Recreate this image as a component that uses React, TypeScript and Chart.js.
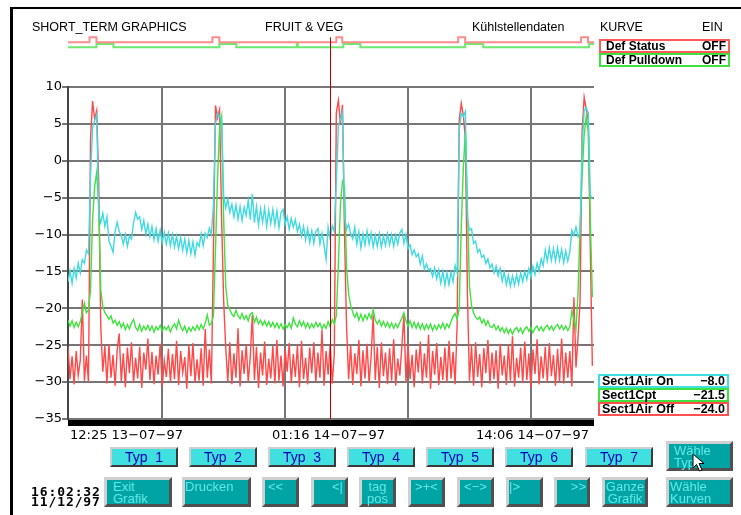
import React, { useEffect, useRef } from 'react';
import { Chart, registerables } from 'chart.js';

Chart.register(...registerables);

// ---------- data ----------
const STEP_H = 0.1; // hours between samples, starting at 12:25 13-07-97
const X_MAX_H = 25.68;
const GRID_H = [4.583, 10.583, 16.583, 22.583]; // 17:00, 23:00, 05:00, 11:00
const Y_TICKS = [10, 5, 0, -5, -10, -15, -20, -25, -30, -35];
const TIME_LABELS = ['12:25 13\u221207\u221297', '01:16 14\u221207\u221297', '14:06 14\u221207\u221297'];
const CURSOR_H = 12.8;

const AIR_ON = [
  -16.4, -14.9, -16.6, -14.6, -15.9, -13.9, -15.2, -13.4, -13.9, -12.1,
  -12.6, -2.0, 4.5, 5.5, 6.3, -7.2, -8.4, -7.1, -8.9, -7.6,
  -10.9, -11.6, -12.4, -9.6, -8.3, -9.6, -10.1, -11.3, -10.0, -11.6,
  -10.2, -10.6, -8.4, -7.0, -7.9, -7.6, -9.3, -8.1, -9.9, -8.6,
  -10.3, -8.9, -10.7, -9.2, -10.9, -9.4, -11.1, -9.7, -11.3, -9.8,
  -11.5, -10.0, -11.7, -10.2, -11.9, -10.4, -12.1, -10.6, -12.5, -10.8,
  -12.6, -11.0, -12.8, -11.1, -11.6, -9.9, -11.5, -9.8, -10.4, -9.1,
  -10.0, -6.0, 5.0, 6.5, 6.0, 5.5, -4.8, -6.4, -5.2, -7.0,
  -5.9, -7.6, -6.0, -7.9, -6.2, -8.1, -6.3, -7.4, -5.4, -8.0,
  -4.5, -8.4, -6.2, -8.7, -6.5, -8.3, -6.4, -8.9, -6.7, -8.5,
  -6.6, -8.7, -6.8, -9.1, -7.0, -6.6, -8.6, -7.6, -9.3, -7.8,
  -9.0, -8.0, -9.6, -8.6, -10.2, -8.9, -10.7, -9.2, -11.1, -9.5,
  -11.2, -9.6, -9.2, -11.3, -9.8, -11.4, -13.4, -9.0, -10.6, -8.8,
  -9.6, -3.0, 4.8, 5.6, 6.6, -7.5, -9.3, -8.6, -9.9, -10.6,
  -9.0, -11.3, -9.6, -11.8, -9.9, -11.4, -9.5, -11.3, -9.8, -11.7,
  -10.1, -11.6, -9.9, -11.7, -10.2, -11.5, -9.9, -11.4, -10.0, -11.6,
  -10.1, -11.3, -9.8, -9.3, -11.2, -10.0, -11.9, -11.4, -12.7, -12.1,
  -13.0, -12.6, -14.0, -12.9, -14.7, -14.0, -14.8, -14.6, -15.7, -14.5,
  -16.0, -14.8, -16.6, -15.0, -16.9, -15.2, -16.8, -15.1, -16.4, -14.2,
  -15.2, 4.2, 6.4, 6.0, 6.7, -7.8, -9.4, -9.2, -11.2, -10.9,
  -12.4, -12.0, -13.1, -12.8, -13.9, -13.3, -14.5, -14.0, -15.2, -14.3,
  -15.6, -14.6, -16.3, -15.1, -16.8, -15.5, -17.0, -15.6, -16.9, -15.5,
  -16.7, -15.2, -16.4, -15.0, -16.1, -14.6, -15.8, -14.3, -15.4, -13.9,
  -14.9, -13.3, -14.2, -12.1, -13.6, -11.8, -13.5, -11.9, -13.6, -11.8,
  -13.5, -12.0, -13.8, -12.2, -13.6, -12.3, -9.4, -10.1, -9.0, -10.3,
  -9.7, 2.0, 6.8, 7.2, 6.5, -4.6, -5.2,
];

const CPT = [
  -21.6, -22.4, -21.7, -22.6, -21.9, -22.5, -21.8, -20.5, -19.3, -20.6,
  -20.2, -17.5, -8.0, -3.5, -1.6, -6.0, -17.5, -19.8, -20.6, -21.0,
  -21.5, -21.0, -22.0, -21.6, -22.3, -21.8, -22.6, -22.0, -22.9, -22.2,
  -22.8, -22.0, -21.5, -22.6, -23.0, -22.2, -23.1, -22.4, -22.9, -22.3,
  -23.0, -22.4, -23.2, -22.5, -22.9, -22.3, -23.1, -22.5, -22.9, -22.4,
  -23.2, -22.5, -22.1, -22.8, -21.6, -22.5, -23.0, -22.4, -23.3, -22.6,
  -23.1, -22.5, -23.0, -22.3, -22.9, -22.2, -22.8, -22.0, -20.9, -22.3,
  -22.0, -21.0, -12.0, -2.5, 4.5, 6.0, -8.0, -17.0, -19.6, -20.2,
  -20.8, -21.1, -20.3, -21.0, -21.4, -20.7, -21.5, -21.0, -21.7, -20.8,
  -20.6, -21.9, -21.2, -22.1, -21.6, -22.3, -21.7, -22.4, -21.8, -22.5,
  -21.9, -22.6, -22.0, -22.7, -22.1, -22.8, -22.2, -22.6, -22.0, -22.7,
  -21.3, -22.1, -22.5, -21.7, -22.4, -21.8, -22.6, -22.0, -22.7, -22.1,
  -22.6, -21.9, -22.5, -22.0, -22.8, -22.2, -22.7, -21.8, -22.5, -21.5,
  -22.1, -21.0, -14.0, -6.0, -2.8, -3.5, -14.5, -18.0, -19.6, -20.5,
  -21.2, -20.6, -21.6, -20.8, -21.7, -20.9, -21.5, -20.7, -21.4, -20.2,
  -21.6, -22.1, -21.6, -22.4, -21.8, -22.5, -21.9, -22.6, -22.0, -22.7,
  -22.1, -22.6, -21.9, -21.3, -20.6, -21.7, -22.4, -21.7, -22.6, -21.9,
  -22.7, -22.0, -22.8, -22.1, -22.9, -22.2, -22.8, -22.1, -23.0, -22.3,
  -22.9, -22.2, -22.7, -22.0, -22.8, -22.1, -22.6, -21.8, -21.1, -20.7,
  -21.5, -20.0, -9.0, -1.0, 4.0, -6.0, -17.0, -19.6, -20.6, -21.2,
  -21.5, -21.2, -22.0, -21.5, -22.3, -21.7, -22.5, -22.6, -22.2, -22.9,
  -22.4, -23.1, -22.6, -23.3, -22.7, -23.4, -22.8, -23.5, -22.9, -22.6,
  -23.2, -22.7, -23.4, -22.8, -22.5, -23.1, -22.6, -23.3, -22.7, -22.4,
  -23.0, -22.5, -23.1, -22.6, -22.3, -22.9, -22.4, -23.0, -22.5, -22.2,
  -22.8, -22.3, -22.9, -22.4, -23.0, -22.5, -20.3, -21.5, -22.8, -18.0,
  -9.0, -2.0, 3.5, 6.0, 4.0, -8.0, -18.5,
];

const AIR_OFF = [
  -25.2, -29.6, -26.5, -30.3, -25.8, -29.1, -27.0, -18.8, -29.8, -26.4,
  -30.0, 3.0, 8.1, 5.6, 6.8, -3.0, -22.5, -28.6, -25.1, -30.2,
  -24.9, -29.4, -26.3, -30.5, -25.7, -23.4, -29.9, -26.1, -30.7, -25.3,
  -28.8, -24.6, -30.1, -26.7, -29.5, -25.2, -30.8, -26.0, -28.3, -24.1,
  -29.7, -25.9, -30.3, -26.4, -29.0, -24.8, -30.6, -27.1, -29.3, -25.5,
  -30.0, -26.2, -29.6, -24.4, -30.4, -25.8, -28.7, -26.6, -30.9, -25.0,
  -29.2, -24.7, -30.1, -26.9, -29.8, -25.4, -30.5, -22.8, -29.4, -25.6,
  -30.2, -12.0, 7.5, 5.8, 6.9, -8.0, -19.0, -25.3, -29.9, -24.6,
  -30.3, -26.1, -29.4, -22.7, -30.6, -25.7, -28.9, -24.9, -30.0, -26.5,
  -20.9, -29.7, -25.2, -30.8, -26.0, -29.1, -24.5, -30.4, -26.8, -29.5,
  -25.1, -30.2, -24.3, -29.8, -26.4, -30.6, -25.5, -28.6, -24.7, -30.1,
  -26.2, -29.3, -25.0, -30.7, -24.4, -29.6, -26.7, -30.3, -25.3, -28.8,
  -24.6, -30.0, -26.0, -29.4, -22.9, -30.5, -25.8, -29.0, -24.8, -30.2,
  -26.3, 6.5, 8.2, 5.0, 7.6, -10.0, -22.5, -29.6, -25.0, -30.4,
  -26.1, -28.9, -24.3, -30.6, -25.7, -29.5, -24.8, -30.1, -26.5, -20.8,
  -29.7, -25.2, -30.8, -24.6, -29.2, -26.0, -30.3, -25.4, -29.8, -24.2,
  -30.5, -26.8, -29.1, -25.1, -20.9, -30.0, -24.9, -29.6, -26.3, -30.7,
  -25.6, -28.7, -24.5, -30.2, -26.1, -29.4, -23.6, -30.9, -25.8, -29.0,
  -24.7, -30.4, -26.6, -29.7, -25.3, -30.1, -24.4, -29.5, -25.9, -30.3,
  -22.0, 5.5, 7.8, 6.2, 3.0, -18.0, -29.8, -25.1, -30.5, -24.6,
  -29.3, -26.2, -30.7, -25.4, -28.8, -24.3, -30.2, -26.0, -29.6, -25.7,
  -30.9, -24.8, -29.1, -26.4, -30.4, -25.0, -29.8, -23.8, -30.6, -26.7,
  -29.4, -25.3, -30.1, -24.5, -29.7, -26.1, -30.8, -25.6, -28.9, -24.2,
  -30.3, -26.5, -29.5, -25.2, -30.0, -24.7, -29.2, -26.3, -30.5, -25.5,
  -29.9, -24.1, -30.2, -26.0, -29.4, -25.8, -30.6, -18.5, -28.0, -24.0,
  -19.0, 4.0, 8.6, 7.0, 5.5, -12.0, -27.8,
];

// digital traces: switching times (hours) and states
const STATUS_T = [0, 1.05, 1.39, 7.05, 7.39, 13.1, 13.39, 19.05, 19.39, 25.05, 25.39, 25.68];
const STATUS_V = [0, 1, 0, 1, 0, 1, 0, 1, 0, 1, 0, 0];
const PULL_T = [0, 1.39, 2.22, 7.39, 8.22, 11.17, 11.22, 13.44, 14.27, 19.39, 20.27, 25.44, 25.68];
const PULL_V = [0, 1, 0, 1, 0, 1, 0, 1, 0, 1, 0, 1, 1];

const LEGEND_NAMES = ['Sect1Air On', 'Sect1Cpt', 'Sect1Air Off'];
const LEGEND_VALUES = ['\u22128.0', '\u221221.5', '\u221224.0'];
const STATUS_NAMES = ['Def Status', 'Def Pulldown'];
const STATUS_VALUES = ['OFF', 'OFF'];
const TYP_LABELS = ['Typ  1', 'Typ  2', 'Typ  3', 'Typ  4', 'Typ  5', 'Typ  6', 'Typ  7'];
const ROW2_LABELS = ['Exit\nGrafik', 'Drucken', '<<', '<|', 'tag\npos', '>+<', '<\u2212>', '|>', '>>', 'Ganze\nGrafik', 'W\u00e4hle\nKurven'];

// ---------- styles / layout ----------
const CYAN = 'rgb(64,218,224)';
const GREEN = 'rgb(64,226,64)';
const RED = 'rgb(255,72,72)';
const GRID = 'rgb(118,118,118)';
const SANS = '"Liberation Sans", Arial, sans-serif';
const TYP_X = [110, 189, 268, 347, 426, 505, 585];
const ROW2_LAYOUT: { x: number; w: number; align: 'left' | 'right' | 'center'; pad: number }[] = [
  { x: 104, w: 68, align: 'left', pad: 6 },
  { x: 182, w: 69, align: 'left', pad: 0 },
  { x: 262, w: 37, align: 'left', pad: 3 },
  { x: 311, w: 37, align: 'right', pad: 2 },
  { x: 359, w: 37, align: 'center', pad: 0 },
  { x: 408, w: 37, align: 'center', pad: 0 },
  { x: 457, w: 37, align: 'center', pad: 0 },
  { x: 506, w: 37, align: 'left', pad: 0 },
  { x: 554, w: 36, align: 'right', pad: 1 },
  { x: 602, w: 46, align: 'center', pad: 0 },
  { x: 666, w: 67, align: 'left', pad: 1 },
];
const LEGEND_COLORS = ['rgb(64,224,224)', 'rgb(64,224,64)', 'rgb(255,80,80)'];
const STATUS_COLORS = ['rgb(255,90,90)', 'rgb(64,224,64)'];

const fmt = (v: number) => (v < 0 ? '\u2212' + Math.abs(v) : String(v));

export default function App() {
  const ref = useRef<HTMLCanvasElement>(null);

  useEffect(() => {
    const canvas = ref.current;
    if (!canvas) return;
    const toPts = (arr: number[]) => arr.map((v, i) => ({ x: Math.round(i * STEP_H * 100) / 100, y: v }));
    const stepPts = (t: number[], v: number[]) => t.map((x, i) => ({ x, y: v[i] }));

    const cursorPlugin = {
      id: 'cursorLine',
      afterDatasetsDraw(chart: any) {
        const { ctx, chartArea, scales } = chart;
        const x = Math.round(scales.x.getPixelForValue(CURSOR_H)) + 0.5;
        ctx.save();
        ctx.strokeStyle = '#c00000';
        ctx.lineWidth = 1;
        ctx.beginPath();
        ctx.moveTo(x, scales.yStatus.getPixelForValue(1));
        ctx.lineTo(x, chartArea.bottom);
        ctx.stroke();
        ctx.restore();
      },
    };

    const line = (label: string, data: any, color: string, order: number) => ({
      label,
      data,
      borderColor: color,
      backgroundColor: color,
      borderWidth: 1.4,
      pointRadius: 0,
      tension: 0,
      fill: false,
      order,
    });

    const chart = new Chart(canvas, {
      type: 'line',
      data: {
        datasets: [
          line('Sect1Air On', toPts(AIR_ON), CYAN, 0),
          line('Sect1Cpt', toPts(CPT), GREEN, 1),
          line('Sect1Air Off', toPts(AIR_OFF), RED, 2),
          {
            ...line('Def Status', stepPts(STATUS_T, STATUS_V), 'rgb(255,140,140)', 3),
            borderWidth: 2,
            stepped: true,
            clip: false,
            yAxisID: 'yStatus',
          } as any,
          {
            ...line('Def Pulldown', stepPts(PULL_T, PULL_V), 'rgb(110,232,110)', 4),
            borderWidth: 2,
            stepped: true,
            clip: false,
            yAxisID: 'yPull',
          } as any,
        ],
      },
      options: {
        animation: false,
        responsive: false,
        devicePixelRatio: 1,
        events: [],
        layout: { padding: { left: 0, right: 147, top: 87, bottom: 96 } },
        plugins: { legend: { display: false }, tooltip: { enabled: false } },
        scales: {
          x: {
            type: 'linear',
            min: 0,
            max: X_MAX_H,
            afterBuildTicks: (s: any) => {
              s.ticks = GRID_H.map((v) => ({ value: v }));
            },
            ticks: { display: false },
            grid: { color: GRID, lineWidth: 2, drawTicks: false },
            border: { display: false },
            afterFit: (s: any) => {
              s.height = 0;
            },
          },
          y: {
            min: -35,
            max: 10,
            afterBuildTicks: (s: any) => {
              s.ticks = Y_TICKS.map((v) => ({ value: v }));
            },
            ticks: {
              callback: (v: any) => fmt(Number(v)),
              color: '#000',
              font: { family: '"DejaVu Sans"', size: 13 },
              padding: 0,
              autoSkip: false,
            },
            grid: { color: GRID, lineWidth: 2, tickLength: 6 },
            border: { color: 'rgb(70,70,70)', width: 2 },
            afterFit: (s: any) => {
              s.width = 68;
            },
          },
          yStatus: { display: false, min: -75.34, max: -8.94 },
          yPull: { display: false, min: -112.64, max: -12.03 },
        } as any,
      },
      plugins: [cursorPlugin],
    });
    return () => chart.destroy();
  }, []);

  const abs = (o: React.CSSProperties): React.CSSProperties => ({ position: 'absolute', ...o });

  return (
    <div
      style={{
        position: 'fixed',
        left: 0,
        top: 0,
        width: 741,
        height: 515,
        background: '#fff',
        overflow: 'hidden',
        fontFamily: SANS,
      }}
    >
      <canvas ref={ref} width={741} height={515} style={abs({ left: 0, top: 0, width: 741, height: 515 })} />

      {/* frame */}
      <div style={abs({ left: 10, top: 7, width: 731, height: 2, background: '#000' })} />
      <div style={abs({ left: 10, top: 7, width: 3, height: 508, background: '#000' })} />

      {/* header */}
      {[
        ['SHORT_TERM GRAPHICS', 32],
        ['FRUIT & VEG', 265],
        ['K\u00fchlstellendaten', 472],
        ['KURVE', 600],
        ['EIN', 702],
      ].map(([t, x]) => (
        <div key={String(t)} style={abs({ left: x as number, top: 21, fontSize: 12.5, lineHeight: '12.5px', color: '#000', whiteSpace: 'pre' })}>
          {t}
        </div>
      ))}

      {/* status boxes */}
      {STATUS_NAMES.map((n, i) => (
        <div
          key={n}
          style={abs({
            left: 599,
            top: 39 + i * 14,
            width: 131,
            height: 14,
            boxSizing: 'border-box',
            border: `2px solid ${STATUS_COLORS[i]}`,
            display: 'flex',
            justifyContent: 'space-between',
            alignItems: 'center',
            padding: '0 2px 0 5px',
            font: `bold 12px ${SANS}`,
            lineHeight: '10px',
            color: '#000',
          })}
        >
          <span>{n}</span>
          <span>{STATUS_VALUES[i]}</span>
        </div>
      ))}

      {/* legend boxes */}
      {LEGEND_NAMES.map((n, i) => (
        <div
          key={n}
          style={abs({
            left: 598,
            top: 374 + i * 14,
            width: 131,
            height: 14,
            boxSizing: 'border-box',
            border: `2px solid ${LEGEND_COLORS[i]}`,
            display: 'flex',
            justifyContent: 'space-between',
            alignItems: 'center',
            padding: '0 2px 0 2px',
            font: `bold 12.5px ${SANS}`,
            lineHeight: '10px',
            color: '#000',
          })}
        >
          <span>{n}</span>
          <span>{LEGEND_VALUES[i]}</span>
        </div>
      ))}

      {/* black time bar */}
      <div style={abs({ left: 68, top: 420, width: 526, height: 6, background: '#000' })} />

      {/* time labels */}
      {TIME_LABELS.map((t, i) => (
        <div
          key={t}
          style={abs({
            left: [70, 272, 476][i],
            top: 428,
            font: '13px "DejaVu Sans"',
            lineHeight: '13px',
            color: '#000',
            whiteSpace: 'pre',
          })}
        >
          {t}
        </div>
      ))}

      {/* Typ buttons */}
      {TYP_LABELS.map((t, i) => (
        <div
          key={t}
          style={abs({
            left: TYP_X[i],
            top: 447,
            width: 68,
            height: 20,
            boxSizing: 'border-box',
            background: 'rgb(64,224,224)',
            borderStyle: 'solid',
            borderWidth: 2,
            borderColor: '#cfcfcf #3a3a3a #3a3a3a #cfcfcf',
            color: '#0000b8',
            fontSize: 14,
            lineHeight: '16px',
            textAlign: 'center',
            whiteSpace: 'pre',
          })}
        >
          {t}
        </div>
      ))}

      {/* Wähle Typ */}
      <div
        style={abs({
          left: 666,
          top: 441,
          width: 67,
          height: 30,
          boxSizing: 'border-box',
          background: 'rgb(0,164,164)',
          borderStyle: 'solid',
          borderWidth: 3,
          borderColor: '#d0d0d0 #505050 #505050 #d0d0d0',
          color: 'rgb(96,232,232)',
          fontSize: 13,
          lineHeight: '12px',
          whiteSpace: 'pre',
          paddingLeft: 5,
          paddingTop: 1,
        })}
      >
        {'W\u00e4hle\nTyp'}
      </div>
      <svg style={abs({ left: 692, top: 453 })} width={14} height={20} viewBox="0 0 14 20">
        <polygon points="1,1 1,15 4.5,11.5 7.5,18 10,17 7,10.5 12,10.5" fill="#fff" stroke="#000" strokeWidth={1} />
      </svg>

      {/* second row buttons */}
      {ROW2_LABELS.map((t, i) => {
        const L = ROW2_LAYOUT[i];
        return (
          <div
            key={t}
            style={abs({
              left: L.x,
              top: 477,
              width: L.w,
              height: 30,
              boxSizing: 'border-box',
              background: 'rgb(0,164,164)',
              borderStyle: 'solid',
              borderWidth: 3,
              borderColor: '#d0d0d0 #505050 #505050 #d0d0d0',
              color: 'rgb(96,232,232)',
              fontSize: 13,
              lineHeight: '12px',
              whiteSpace: 'pre',
              textAlign: L.align,
              paddingLeft: L.align === 'left' ? L.pad : 0,
              paddingRight: L.align === 'right' ? L.pad : 0,
              paddingTop: 1,
            })}
          >
            {t}
          </div>
        );
      })}

      {/* clock */}
      <div
        style={abs({
          left: 31,
          top: 487,
          font: 'bold 13px "DejaVu Sans Mono"',
          lineHeight: '10px',
          letterSpacing: 0.9,
          color: '#000',
          whiteSpace: 'pre',
        })}
      >
        {'16:02:32\n11/12/97'}
      </div>
    </div>
  );
}
